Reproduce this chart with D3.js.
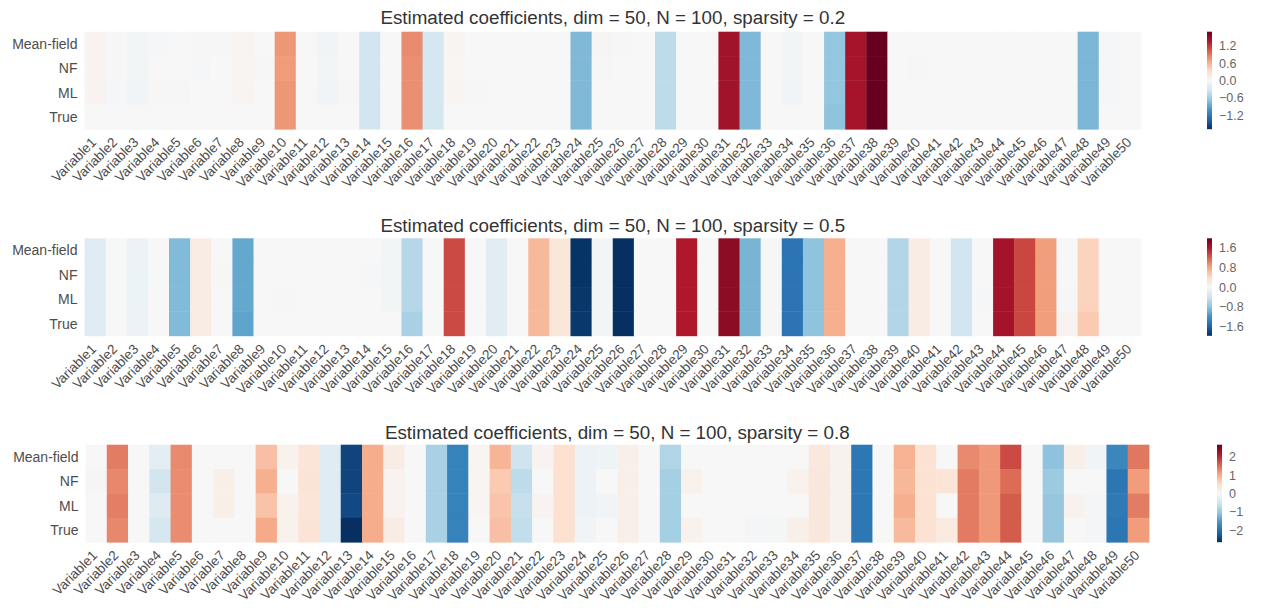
<!DOCTYPE html>
<html>
<head>
<meta charset="utf-8">
<script src="https://cdn.jsdelivr.net/npm/d3@7"></script>
<style>
  body { margin: 0; background: #fff; }
  svg text { font-family: "Liberation Sans", Arial, sans-serif; }
</style>
</head>
<body>
<svg id="chart" width="1264" height="610"></svg>
<script>
// ---- data -------------------------------------------------------------
const variables = d3.range(1, 51).map(i => "Variable" + i);
const methods = ["Mean-field", "NF", "ML", "True"];
const sparsityLevels = ["0.2", "0.5", "0.8"];

// sparsity = 0.2
const meanField02 = [0.05,-0.01,-0.04,-0.02,0,0.01,0.01,0.04,0,0.74, 0,-0.05,0,-0.32,0,0.8,-0.3,0.04,0,0, 0,0,0,-0.75,0.02,0.01,0,-0.44,0,0, 1.42,-0.75,0,-0.04,0,-0.66,1.4,1.68,0,0, 0,0,0,0,0,0,0,-0.77,-0.02,0];
const nf02        = [0.05,-0.01,-0.04,0,0,-0.02,0,0.04,-0.01,0.72, 0,-0.04,0,-0.32,0,0.78,-0.3,0.03,0,0, 0,0,0,-0.75,0.01,0,0,-0.44,0,0, 1.42,-0.75,0,-0.04,0,-0.66,1.4,1.68,0,-0.01, 0,0,0,0,0,0,0,-0.77,-0.02,0];
const ml02        = [0.05,-0.02,-0.05,-0.01,-0.01,0,0,0.04,0,0.74, 0,-0.05,0.01,-0.32,0,0.78,-0.3,0.04,-0.01,0, 0,0,0,-0.75,0,0,0,-0.44,0,0, 1.42,-0.75,0,-0.05,0,-0.66,1.4,1.68,0,0, 0,0,0,0,0,0,0,-0.77,-0.02,0];
const true02      = [0,0,0,0,0,0,0,0,0,0.74, 0,0,0,-0.32,0,0.78,-0.3,0,0,0, 0,0,0,-0.75,0,0,0,-0.44,0,0, 1.42,-0.75,0,0,0,-0.68,1.4,1.68,0,0, 0,0,0,0,0,0,0,-0.77,0,0];

// sparsity = 0.5
const meanField05 = [-0.25,-0.01,-0.13,0,-0.87,0.15,0,-1.02,0,0, 0,0,0,0,-0.05,-0.57,0,1.31,0,-0.23, 0,0.65,0.24,-1.95,-0.05,-1.98,0,0,1.6,0, 1.78,-0.92,0.01,-1.46,-0.8,0.71,0,0,-0.59,0.15, 0,-0.39,0,1.66,1.33,0.83,0,0.45,0,0];
const nf05        = [-0.25,-0.01,-0.12,-0.01,-0.87,0.15,0.02,-1.02,0,0, 0,0,0,-0.02,-0.05,-0.57,0,1.31,0,-0.23, 0,0.65,0.24,-1.95,-0.05,-1.98,0,0,1.6,0, 1.78,-0.92,0.01,-1.46,-0.8,0.71,0,0,-0.59,0.15, 0,-0.39,0,1.66,1.33,0.83,0,0.45,0,0];
const ml05        = [-0.25,-0.01,-0.12,0,-0.87,0.15,0,-1.02,0,0.01, 0,0,0,0,-0.05,-0.57,0,1.31,0,-0.23, 0,0.65,0.24,-1.93,-0.05,-1.98,0,0,1.6,0, 1.78,-0.92,0.01,-1.46,-0.8,0.71,0,0,-0.59,0.15, 0,-0.39,-0.02,1.66,1.33,0.83,0.01,0.45,0,0];
const true05      = [-0.25,0,-0.13,0,-0.87,0.15,0,-1.05,0,0, 0,0,0,0,0,-0.65,0,1.31,0,-0.23, 0,0.65,0.24,-1.92,-0.05,-1.98,0,0,1.6,0, 1.78,-0.92,0.01,-1.46,-0.8,0.71,0,0,-0.59,0.15, 0,-0.39,0,1.66,1.33,0.83,0.05,0.52,0,0];

// sparsity = 0.8
const meanField08 = [0,1.37,0,-0.28,1.27,0,0,0,0.8,0.12, 0.34,-0.33,-2.45,0.98,0.2,0,-0.87,-1.79,0.05,0.9, -0.55,0.08,0.43,-0.15,-0.12,0.15,0,-0.8,0,0, 0,0,0,0,0.28,0.1,-1.92,0,0.93,0.4, 0,1.27,1.15,1.75,0,-1.08,0.15,-0.08,-1.73,1.41];
const nf08        = [0.03,1.29,0,-0.5,1.25,0,0.15,0,0.96,0, 0.36,-0.33,-2.45,0.98,0.08,0,-0.87,-1.79,0.05,0.7, -0.7,0,0.43,-0.15,0,0.15,0,-0.9,0.12,0, 0,0,0,0.12,0.3,0.1,-1.92,0,0.88,0.4, 0.35,1.38,1.15,1.5,0,-0.98,0,0,-1.93,1.12];
const ml08        = [0,1.35,0,-0.35,1.25,0,0.15,0,0.77,0.12, 0.34,-0.33,-2.4,0.98,0.08,0,-0.87,-1.79,0.05,0.76, -0.62,0.08,0.43,-0.15,-0.1,0.15,0,-0.9,0,0, 0,0,0,0,0.3,0.1,-1.92,0,0.95,0.4, 0,1.38,1.15,1.62,0,-1.02,0.1,-0.05,-1.9,1.37];
const true08      = [0,1.29,0,-0.47,1.25,0,0,0,1.0,0.12, 0.36,-0.33,-2.65,0.98,0.2,0,-0.87,-1.79,0,0.8, -0.66,0,0.43,-0.1,0,0.15,0,-0.9,0.12,0, 0,-0.06,-0.04,0.15,0.3,0.1,-1.92,0,0.85,0.4, 0.25,1.38,1.15,1.62,0,-1.02,0,-0.05,-1.93,1.12];

// colour bar limits and ticks
const colorLimits = [1.68, 1.98, 2.65];
const cbarTicks = [
  [-1.2, -0.6, 0, 0.6, 1.2],
  [-1.6, -0.8, 0, 0.8, 1.6],
  [-2, -1, 0, 1, 2]
];
const cbarFormats = [".1f", ".1f", "d"];

// RdBu, reversed (blue for negative, red for positive)
const rdbuR = ["#053061","#2166ac","#4393c3","#92c5de","#d1e5f0","#f7f7f7",
               "#fddbc7","#f4a582","#d6604d","#b2182b","#67001f"];

const panels = [
  { rows: [meanField02, nf02, ml02, true02] },
  { rows: [meanField05, nf05, ml05, true05] },
  { rows: [meanField08, nf08, ml08, true08] }
];

// ---- layout -------------------------------------------------------------
const layout = [
  { top: 31.7,  left: 84.5, right: 1141, cbarX: 1207, titleY: 24 },
  { top: 238.3, left: 84.5, right: 1141, cbarX: 1207, titleY: 231.5 },
  { top: 444.7, left: 85.5, right: 1149, cbarX: 1217, titleY: 439 }
];
const mapHeight = 97.5;
const cbarWidth = 5;

const svg = d3.select("#chart");
const defs = svg.append("defs");

panels.forEach((panel, p) => {
  const L = layout[p];
  const m = colorLimits[p];
  const g = svg.append("g");

  const x = d3.scaleBand().domain(variables).range([L.left, L.right]);
  const y = d3.scaleBand().domain(methods).range([L.top, L.top + mapHeight]);
  const color = d3.scaleLinear()
    .domain(d3.range(11).map(i => -m + i * (2 * m) / 10))
    .range(rdbuR)
    .interpolate(d3.interpolateRgb)
    .clamp(true);

  const cells = [];
  methods.forEach((meth, r) => {
    variables.forEach((v, c) => cells.push({ meth, v, value: panel.rows[r][c] }));
  });

  g.append("g").selectAll("rect").data(cells).join("rect")
    .attr("x", d => x(d.v))
    .attr("y", d => y(d.meth))
    .attr("width", x.bandwidth() + 0.4)
    .attr("height", y.bandwidth() + 0.4)
    .attr("fill", d => color(d.value));

  // title
  g.append("text")
    .attr("x", (L.left + L.right) / 2)
    .attr("y", L.titleY)
    .attr("text-anchor", "middle")
    .attr("font-size", "18.8px")
    .attr("fill", "#333")
    .text(`Estimated coefficients, dim = 50, N = 100, sparsity = ${sparsityLevels[p]}`);

  // row labels
  g.append("g").selectAll("text").data(methods).join("text")
    .attr("x", L.left - 7)
    .attr("y", d => y(d) + y.bandwidth() / 2)
    .attr("dy", "0.35em")
    .attr("text-anchor", "end")
    .attr("font-size", "14px")
    .attr("fill", "#4d4d4d")
    .text(d => d);

  // column labels, rotated 45 degrees
  const bottom = L.top + mapHeight;
  g.append("g").selectAll("text").data(variables).join("text")
    .attr("transform", d => `translate(${x(d) + x.bandwidth() / 2 + 2},${bottom + 14}) rotate(-45)`)
    .attr("text-anchor", "end")
    .attr("font-size", "13.6px")
    .attr("fill", "#4d4d4d")
    .text(d => d);

  // colour bar
  const gradId = "cbar" + p;
  const grad = defs.append("linearGradient")
    .attr("id", gradId)
    .attr("x1", 0).attr("y1", 1).attr("x2", 0).attr("y2", 0);
  grad.selectAll("stop").data(rdbuR).join("stop")
    .attr("offset", (d, i) => i / 10)
    .attr("stop-color", d => d);

  const cy = d3.scaleLinear().domain([-m, m]).range([L.top + mapHeight, L.top]);
  g.append("rect")
    .attr("x", L.cbarX)
    .attr("y", L.top)
    .attr("width", cbarWidth)
    .attr("height", mapHeight)
    .attr("fill", `url(#${gradId})`);

  const axis = g.append("g")
    .attr("transform", `translate(${L.cbarX + cbarWidth},0)`)
    .call(d3.axisRight(cy).tickValues(cbarTicks[p]).tickSize(0).tickPadding(7)
      .tickFormat(d3.format(cbarFormats[p])));
  axis.select(".domain").remove();
  axis.selectAll("text")
    .attr("font-family", "Liberation Sans, Arial, sans-serif")
    .attr("font-size", "12.5px")
    .attr("fill", "#666");
});
</script>
</body>
</html>
